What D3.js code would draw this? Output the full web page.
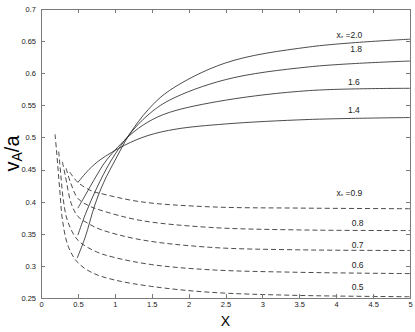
<!DOCTYPE html>
<head>
<meta charset="utf-8">
<style>
body { margin: 0; background: #fff; }
.axis path, .axis line { stroke: #7a7a7a; stroke-width: 1; shape-rendering: crispEdges; fill: none; }
.axis text { font: 7.5px "Liberation Sans", Arial, sans-serif; fill: #222; }
.curve { fill: none; stroke: #1e1e1e; stroke-width: 0.8; }
.dashed { stroke-dasharray: 5,3; }
.lbl { font: 8.5px "Liberation Sans", Arial, sans-serif; fill: #222; text-anchor: middle; }
</style>
<body>
<script src="https://cdn.jsdelivr.net/npm/d3@7/dist/d3.min.js"></script>
<script>

// tick values
var xTicks = [0, 0.5, 1, 1.5, 2, 2.5, 3, 3.5, 4, 4.5, 5];
var yTicks = [0.25, 0.3, 0.35, 0.4, 0.45, 0.5, 0.55, 0.6, 0.65, 0.7];

// solid curves, x* > 1  ([X, vA/a])
var solid20 = [[0.49,0.312],[0.6,0.345],[0.73,0.395],[0.85,0.43],[1.02,0.468],[1.2,0.505],[1.45,0.543],[1.74,0.573],[2.5,0.616],[3.64,0.641],[5,0.653]];
var solid18 = [[0.5,0.348],[0.6,0.38],[0.75,0.42],[0.955,0.465],[1.2,0.505],[1.45,0.535],[1.74,0.558],[2.5,0.59],[3.64,0.61],[5,0.619]];
var solid16 = [[0.5,0.39],[0.6,0.41],[0.75,0.44],[0.89,0.465],[1.2,0.503],[1.45,0.524],[1.74,0.539],[2.5,0.558],[3.64,0.573],[5,0.5765]];
var solid14 = [[0.5,0.43],[0.65,0.45],[0.8,0.465],[1.135,0.488],[1.45,0.503],[1.83,0.513],[2.5,0.521],[3.64,0.528],[5,0.531]];

// dashed curves, x* < 1
var dash09 = [[0.39,0.446],[0.5,0.43],[0.7,0.416],[0.8,0.413],[1.34,0.4],[2.28,0.392],[3.5,0.39],[5,0.389]];
var dash08 = [[0.34,0.452],[0.4,0.43],[0.5,0.405],[0.66,0.393],[0.8,0.387],[1.34,0.371],[2.28,0.36],[3.5,0.356],[5,0.355]];
var dash07 = [[0.29,0.462],[0.33,0.44],[0.41,0.397],[0.5,0.377],[0.64,0.366],[0.8,0.357],[1.34,0.341],[2.28,0.329],[3.5,0.325],[5,0.324]];
var dash06 = [[0.24,0.478],[0.27,0.44],[0.3,0.405],[0.36,0.37],[0.5,0.34],[0.75,0.322],[1,0.313],[1.5,0.302],[2.28,0.294],[3.5,0.29],[5,0.288]];
var dash05 = [[0.19,0.505],[0.21,0.48],[0.235,0.445],[0.26,0.41],[0.29,0.372],[0.37,0.33],[0.5,0.305],[0.7,0.289],[1,0.278],[1.5,0.268],[2.28,0.259],[3.5,0.254],[5,0.252]];

// curve labels: value text and where it sits (data units)
var labelText = ["2.0", "1.8", "1.6", "1.4", "0.9", "0.8", "0.7", "0.6", "0.5"];
var labelPos = [[4.18,0.6595],[4.27,0.6377],[4.24,0.586],[4.24,0.5427],[4.18,0.4135],[4.29,0.3667],[4.29,0.3325],[4.29,0.3013],[4.29,0.267]];
var labelStar = [true, false, false, false, true, false, false, false, false];

var margin = {top: 9, right: 5, bottom: 34, left: 41},
    width = 415 - margin.left - margin.right,
    height = 332 - margin.top - margin.bottom;

var x = d3.scaleLinear().domain([0, 5]).range([0, width]);
var y = d3.scaleLinear().domain([0.25, 0.7]).range([height, 0]);

var svg = d3.select("body")
    .append("svg")
        .attr("width", 415)
        .attr("height", 332)
    .append("g")
        .attr("transform", "translate(" + margin.left + "," + margin.top + ")");

var line = d3.line()
    .x(function(d) { return x(d[0]); })
    .y(function(d) { return y(d[1]); })
    .curve(d3.curveCatmullRom.alpha(0.5));

// draw the curves
[solid20, solid18, solid16, solid14].forEach(function(s) {
    svg.append("path").attr("class", "curve").attr("d", line(s));
});
[dash09, dash08, dash07, dash06, dash05].forEach(function(s) {
    svg.append("path").attr("class", "curve dashed").attr("d", line(s));
});

// labels
labelText.forEach(function(t, i) {
    var txt = svg.append("text")
        .attr("class", "lbl")
        .attr("x", x(labelPos[i][0]))
        .attr("y", y(labelPos[i][1]))
        .attr("dy", "0.35em");
    if (labelStar[i]) {
        txt.append("tspan").text("x");
        txt.append("tspan").attr("font-size", "6px").attr("dy", "2").text("*");
        txt.append("tspan").attr("dy", "-2").text(" =" + t);
    } else {
        txt.text(t);
    }
});

// axes, ticks inward on all four sides
svg.append("g")
    .attr("class", "axis")
    .attr("transform", "translate(0," + height + ")")
    .call(d3.axisBottom(x).tickValues(xTicks).tickSizeInner(-4).tickSizeOuter(0).tickPadding(4)
        .tickFormat(function(d) { return String(d); }));

svg.append("g")
    .attr("class", "axis")
    .call(d3.axisLeft(y).tickValues(yTicks).tickSizeInner(-4).tickSizeOuter(0).tickPadding(5)
        .tickFormat(function(d) { return String(d); }));

svg.append("g")
    .attr("class", "axis")
    .call(d3.axisTop(x).tickValues(xTicks).tickSizeInner(-4).tickSizeOuter(0).tickFormat(""));

svg.append("g")
    .attr("class", "axis")
    .attr("transform", "translate(" + width + ",0)")
    .call(d3.axisRight(y).tickValues(yTicks).tickSizeInner(-4).tickSizeOuter(0).tickFormat(""));

// axis titles
svg.append("text")
    .attr("x", width / 2)
    .attr("y", height + 28)
    .attr("text-anchor", "middle")
    .style("font", "14px 'Liberation Sans', Arial, sans-serif")
    .text("X");

var yl = svg.append("text")
    .attr("transform", "translate(" + (19 - margin.left) + "," + (height / 2) + ") rotate(-90)")
    .attr("text-anchor", "middle")
    .style("font", "20px 'Liberation Sans', Arial, sans-serif");
yl.append("tspan").text("v");
yl.append("tspan").attr("font-size", "14px").attr("dy", "3").text("A");
yl.append("tspan").attr("dy", "-3").text("/a");

</script>
</body>
